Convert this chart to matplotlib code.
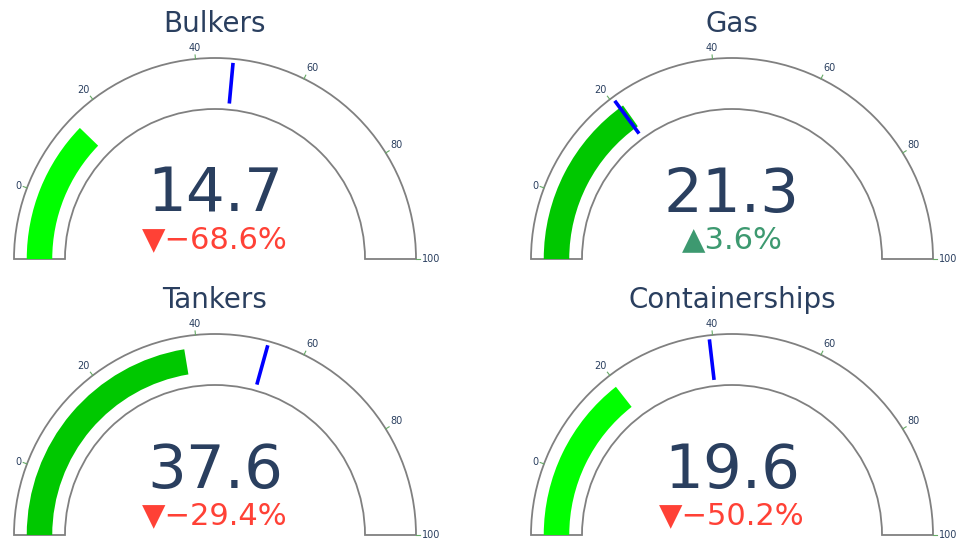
import numpy as np
import matplotlib
matplotlib.use("Agg")
import matplotlib.pyplot as plt
from matplotlib.patches import Wedge

# gauge data
titles = ["Bulkers", "Gas", "Tankers", "Containerships"]
values = [14.7, 21.3, 37.6, 19.6]
references = [46.8, 20.56, 53.26, 39.36]
bar_colors = ["#00ff00", "#00c800", "#00c800", "#00ff00"]
tick_values = [0, 20, 40, 60, 80, 100]
gauge_min, gauge_max = -13, 100

plt.rcParams['font.family'] = ['DejaVu Sans']
text_color = "#2a3f5f"
up_color = "#3D9970"
down_color = "#FF4136"

fig = plt.figure(figsize=(9.63, 5.41), dpi=100)
ax = fig.add_axes([0, 0, 1, 1])
ax.set_xlim(0, 963)
ax.set_ylim(0, 541)
ax.axis('off')

# layout in pixels: gauge centre x, gauge baseline y (from bottom)
centres = [(215, 282), (732, 282), (215, 6), (732, 6)]
r_out, r_in = 201, 150


def angle(v):
    # value -> angle in degrees, min at 180, max at 0
    return 180.0 * (gauge_max - v) / (gauge_max - gauge_min)


for i in range(len(titles)):
    cx, cy = centres[i]
    v = values[i]
    ref = references[i]

    # gauge band outline
    ax.add_patch(Wedge((cx, cy), r_out, 0, 180, width=r_out - r_in,
                       facecolor='white', edgecolor='#808080', lw=1.3))
    # value bar
    band = r_out - r_in
    ax.add_patch(Wedge((cx, cy), r_in + band * 0.75, angle(v), 180,
                       width=band * 0.5, facecolor=bar_colors[i], edgecolor='none'))
    # threshold line at reference
    a = np.radians(angle(ref))
    r1, r2 = r_in + band * 0.12, r_in + band * 0.92
    ax.plot([cx + r1 * np.cos(a), cx + r2 * np.cos(a)],
            [cy + r1 * np.sin(a), cy + r2 * np.sin(a)],
            color='#0000ff', lw=2.6, solid_capstyle='butt')

    # ticks and tick labels
    for t in tick_values:
        a = np.radians(angle(t))
        ca, sa = np.cos(a), np.sin(a)
        ax.plot([cx + r_out * ca, cx + (r_out + 4) * ca],
                [cy + r_out * sa, cy + (r_out + 4) * sa],
                color='#66aa66', lw=0.8)
        rl = r_out + 6
        ha = 'right' if ca < -0.2 else ('left' if ca > 0.2 else 'center')
        va = 'bottom' if sa > 0.5 else 'center'
        ax.text(cx + rl * ca, cy + rl * sa, str(t), fontsize=7,
                color=text_color, ha=ha, va=va)

    # title, number, delta
    ax.text(cx, cy + 227, titles[i], fontsize=20, color=text_color,
            ha='center', va='baseline')
    ax.text(cx, cy + 47, f"{v:.1f}", fontsize=44, color=text_color,
            ha='center', va='baseline')
    delta = (v - ref) / ref * 100
    if delta < 0:
        dtxt = "\u25BC\u2212" + f"{abs(delta):.1f}%"
        dcol = down_color
    else:
        dtxt = "\u25B2" + f"{delta:.1f}%"
        dcol = up_color
    ax.text(cx, cy + 11, dtxt, fontsize=22, color=dcol,
            ha='center', va='baseline')

fig.savefig("out.png", dpi=100, facecolor='white')
